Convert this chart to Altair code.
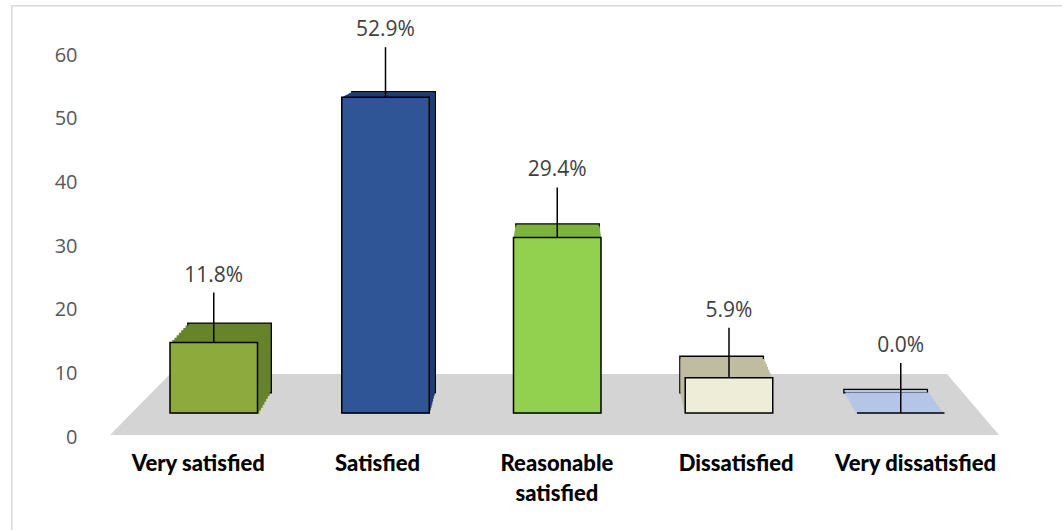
import altair as alt
import pandas as pd

# ---- data ----
categories = ["Very satisfied", "Satisfied", "Reasonable satisfied", "Dissatisfied", "Very dissatisfied"]
values = [11.8, 52.9, 29.4, 5.9, 0.0]
front_colors = ["#8DAB3D", "#2F5597", "#92D050", "#EEEDD7", "#B4C7E7"]
depth_colors = ["#67842B", "#203D72", "#7BB33F", "#BFBCA0", "#B3C6E8"]
y_ticks = [0, 10, 20, 30, 40, 50, 60]

df = pd.DataFrame({"cat": categories, "value": values})

# ---- layout / perspective (pixels, plot coords) ----
W, H = 1051, 525
VX, VY = 554, -5          # vanishing point
KX, KY = 0.955, 0.943     # back-face scale factors
FRONT_X = (159, 933.5)
FRONT_Y = (408, 408 - 5.97 * 60)
PI = 0.4905
N_STEPS = 8


def xrange_k(k):
    return [VX + (FRONT_X[0] - VX) * k, VX + (FRONT_X[1] - VX) * k]


def yrange_k(k):
    return [VY + (FRONT_Y[0] - VY) * k, VY + (FRONT_Y[1] - VY) * k]


def xenc(k, axis=None):
    return alt.X("cat:N", sort=categories,
                 scale=alt.Scale(type="band", domain=categories, range=xrange_k(k),
                                 paddingInner=PI, paddingOuter=0),
                 axis=axis)


def yenc(k):
    return alt.Y("value:Q", scale=alt.Scale(domain=[0, 60], range=yrange_k(k), nice=False, zero=False),
                 axis=None)


deco = alt.Data(values=[{"a": 1}])

# floor (decorative trapezoid drawn as one custom symbol)
FL, FR, BR, BL = (99, 430), (988, 430), (936, 369), (159, 369)
cx, cy = (FL[0] + FR[0]) / 2, (FL[1] + BL[1]) / 2
r = (FR[0] - FL[0]) / 2


def nrm(p):
    return f"{(p[0]-cx)/r:.4f} {(p[1]-cy)/r:.4f}"


floor_path = f"M {nrm(FL)} L {nrm(FR)} L {nrm(BR)} L {nrm(BL)} Z"
floor = alt.Chart(deco).mark_point(shape=floor_path, filled=True, size=(2 * r) ** 2,
                                    color="#D4D4D4", opacity=1, strokeWidth=0).encode(
    x=alt.value(cx), y=alt.value(cy))

border_top = alt.Chart(deco).mark_rule(color="#D9D9D9", strokeWidth=1.5).encode(
    x=alt.value(0), x2=alt.value(W), y=alt.value(0.75))
border_left = alt.Chart(deco).mark_rule(color="#D9D9D9", strokeWidth=1.5).encode(
    x=alt.value(0.75), y=alt.value(0), y2=alt.value(H))

# depth (top/side faces) drawn as stepped back layers
stairs = []
for i in range(N_STEPS, 0, -1):
    f = i / N_STEPS
    kx = 1 - (1 - KX) * f
    ky = 1 - (1 - KY) * f
    kw = dict(y2Offset=3.5)
    if i == N_STEPS:
        kw.update(stroke="black", strokeWidth=1.3)
    stairs.append(
        alt.Chart(df).mark_bar(**kw).encode(
            x=xenc(kx), y=yenc(ky), y2=alt.datum(0),
            color=alt.Color("cat:N", scale=alt.Scale(domain=categories, range=depth_colors), legend=None),
        )
    )

front = alt.Chart(df).mark_bar(stroke="black", strokeWidth=1.5).encode(
    x=xenc(1), y=yenc(1), y2=alt.datum(0),
    color=alt.Color("cat:N", scale=alt.Scale(domain=categories, range=front_colors), legend=None),
)

leaders = alt.Chart(df).mark_rule(color="black", strokeWidth=1.5, y2Offset=-50).encode(
    x=xenc(1), y=yenc(1), y2=alt.Y2("value:Q"))

labels = alt.Chart(df).transform_calculate(
    label="format(datum.value, '.1f') + '%'"
).mark_text(dy=-67, font="Open Sans", fontSize=21, color="#404040", baseline="middle",
            align="center").encode(
    x=xenc(1), y=yenc(1), text="label:N")

# axis carrier (invisible) -> category axis on floor front, value axis on back wall
carrier = alt.Chart(df).mark_point(opacity=0).encode(
    x=alt.X("cat:N", sort=categories,
            scale=alt.Scale(type="band", domain=categories, range=xrange_k(1.044),
                            paddingInner=PI, paddingOuter=0),
            axis=alt.Axis(orient="bottom", offset=-77, labelPadding=0, ticks=False, domain=False,
                          grid=False, title=None, labelAngle=0, labelFont="Lato", labelFontSize=22,
                          labelFontWeight=900, labelColor="black", labelLimit=400,
                          labelLineHeight=30,
                          labelExpr="datum.value == 'Reasonable satisfied' ? ['Reasonable', 'satisfied'] : datum.label")),
    y=alt.Y("value:Q", scale=alt.Scale(domain=[0, 60], range=[432, 50], nice=False, zero=False),
            axis=alt.Axis(orient="left", offset=-70, values=y_ticks, labelPadding=4, ticks=False,
                          domain=False, grid=False, title=None, labelFont="Open Sans",
                          labelFontSize=20, labelColor="#595959")),
)

chart = alt.layer(
    floor, border_top, border_left, *stairs, front, leaders, labels, carrier
).resolve_scale(
    x="independent", y="independent", color="independent"
).properties(
    width=W, height=H,
    autosize=alt.AutoSizeParams(type="none"),
    padding={"left": 11, "top": 5, "right": 0, "bottom": 0},
    background="white",
).configure_view(strokeWidth=0)

chart.save("out.html", embed_options={"renderer": "svg", "actions": False})
